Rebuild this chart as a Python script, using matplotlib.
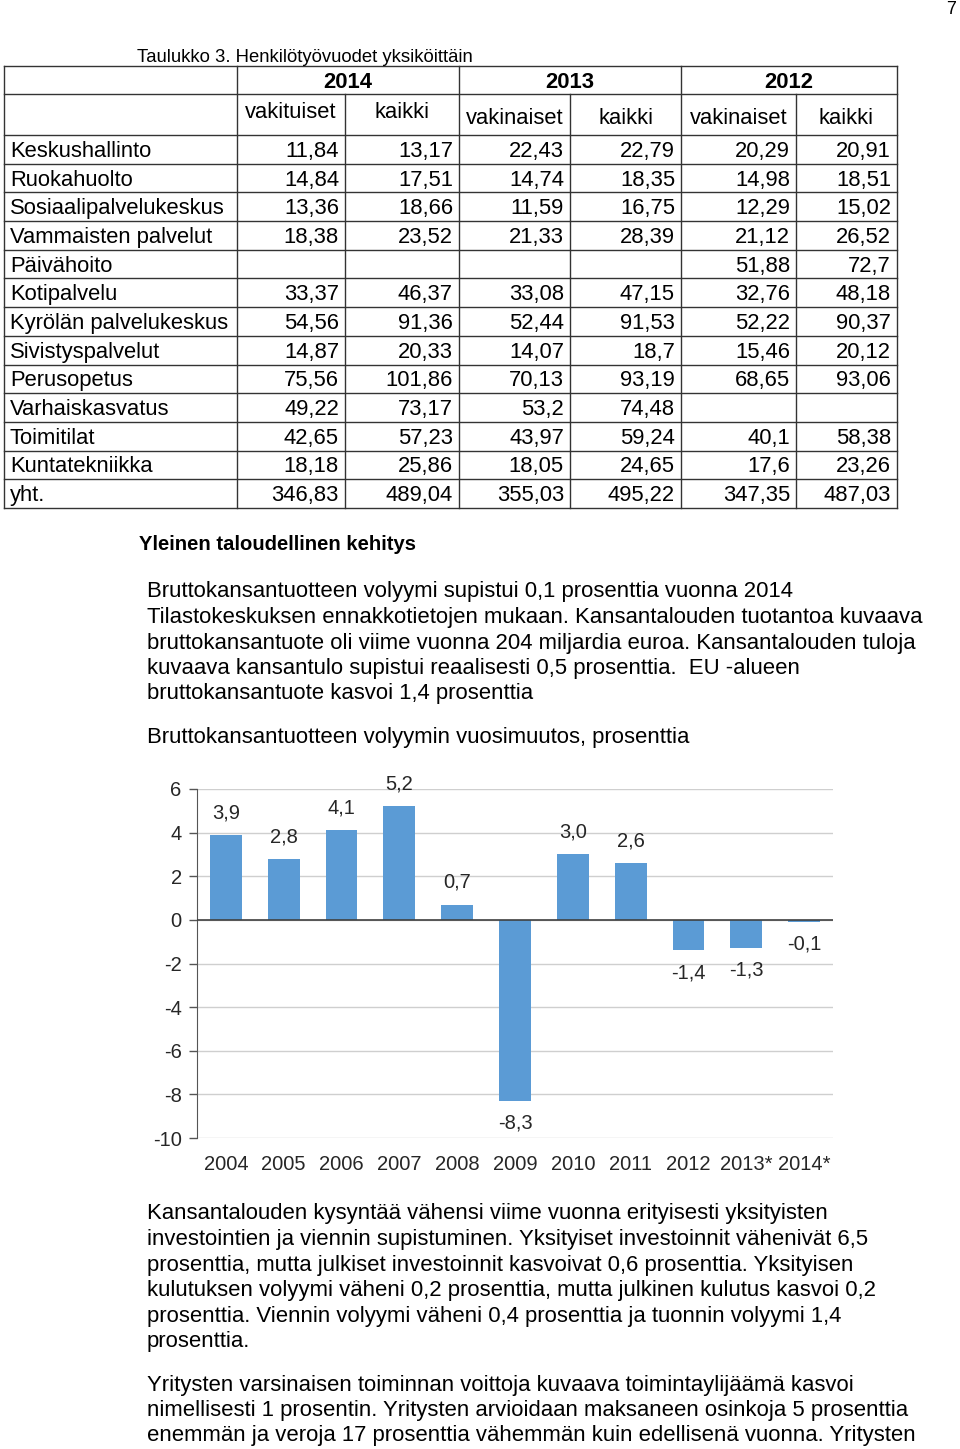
import matplotlib
matplotlib.use('Agg')
import matplotlib.pyplot as plt

plt.rcParams['font.family'] = ['Liberation Sans', 'DejaVu Sans']
plt.rcParams['axes.unicode_minus'] = False

W, H = 960, 1449

# table data
units = ['Keskushallinto', 'Ruokahuolto', 'Sosiaalipalvelukeskus', 'Vammaisten palvelut',
         'Päivähoito', 'Kotipalvelu', 'Kyrölän palvelukeskus', 'Sivistyspalvelut',
         'Perusopetus', 'Varhaiskasvatus', 'Toimitilat', 'Kuntatekniikka', 'yht.']
vak_2014 = ['11,84', '14,84', '13,36', '18,38', '', '33,37', '54,56', '14,87', '75,56', '49,22', '42,65', '18,18', '346,83']
kaikki_2014 = ['13,17', '17,51', '18,66', '23,52', '', '46,37', '91,36', '20,33', '101,86', '73,17', '57,23', '25,86', '489,04']
vak_2013 = ['22,43', '14,74', '11,59', '21,33', '', '33,08', '52,44', '14,07', '70,13', '53,2', '43,97', '18,05', '355,03']
kaikki_2013 = ['22,79', '18,35', '16,75', '28,39', '', '47,15', '91,53', '18,7', '93,19', '74,48', '59,24', '24,65', '495,22']
vak_2012 = ['20,29', '14,98', '12,29', '21,12', '51,88', '32,76', '52,22', '15,46', '68,65', '', '40,1', '17,6', '347,35']
kaikki_2012 = ['20,91', '18,51', '15,02', '26,52', '72,7', '48,18', '90,37', '20,12', '93,06', '', '58,38', '23,26', '487,03']

# chart data
years = ['2004', '2005', '2006', '2007', '2008', '2009', '2010', '2011', '2012', '2013*', '2014*']
gdp_change = [3.9, 2.8, 4.1, 5.2, 0.7, -8.3, 3.0, 2.6, -1.4, -1.3, -0.1]

para1 = ['Bruttokansantuotteen volyymi supistui 0,1 prosenttia vuonna 2014',
         'Tilastokeskuksen ennakkotietojen mukaan. Kansantalouden tuotantoa kuvaava',
         'bruttokansantuote oli viime vuonna 204 miljardia euroa. Kansantalouden tuloja',
         'kuvaava kansantulo supistui reaalisesti 0,5 prosenttia.  EU -alueen',
         'bruttokansantuote kasvoi 1,4 prosenttia']
para2 = ['Kansantalouden kysyntää vähensi viime vuonna erityisesti yksityisten',
         'investointien ja viennin supistuminen. Yksityiset investoinnit vähenivät 6,5',
         'prosenttia, mutta julkiset investoinnit kasvoivat 0,6 prosenttia. Yksityisen',
         'kulutuksen volyymi väheni 0,2 prosenttia, mutta julkinen kulutus kasvoi 0,2',
         'prosenttia. Viennin volyymi väheni 0,4 prosenttia ja tuonnin volyymi 1,4',
         'prosenttia.']
para3 = ['Yritysten varsinaisen toiminnan voittoja kuvaava toimintaylijäämä kasvoi',
         'nimellisesti 1 prosentin. Yritysten arvioidaan maksaneen osinkoja 5 prosenttia',
         'enemmän ja veroja 17 prosenttia vähemmän kuin edellisenä vuonna. Yritysten']

fig = plt.figure(figsize=(W / 100, H / 100), dpi=100)
page = fig.add_axes([0, 0, 1, 1])
page.set_xlim(0, W)
page.set_ylim(H, 0)
page.axis('off')

fs_tab = 15.8
fs_txt = 15.9
dy = 2  # text sits a bit lower than its box centre

page.text(951, 10, '7', fontsize=13, ha='center', va='center')
page.text(137, 55 + dy, 'Taulukko 3. Henkilötyövuodet yksiköittäin', fontsize=13.3, va='center')

# table grid
cols = [4, 237, 345, 459, 570, 681, 796, 897]
top, h1, h2 = 66, 94, 135
row_h = (508 - h2) / len(units)
rows = [h2 + i * row_h for i in range(len(units) + 1)]
lc = '#333333'
for y in [top, h1] + rows:
    page.plot([cols[0], cols[-1]], [y, y], color=lc, lw=1)
for x in cols:
    y0 = h1 if x in (345, 570, 796) else top
    page.plot([x, x], [y0, rows[-1]], color=lc, lw=1)

for i, yr in enumerate(['2014', '2013', '2012']):
    page.text((cols[1 + 2 * i] + cols[3 + 2 * i]) / 2, 80 + dy, yr, fontsize=fs_tab,
              fontweight='bold', ha='center', va='center')
sub = ['vakituiset', 'kaikki', 'vakinaiset', 'kaikki', 'vakinaiset', 'kaikki']
for j, s in enumerate(sub):
    page.text((cols[1 + j] + cols[2 + j]) / 2, (110 if j < 2 else 116) + dy, s,
              fontsize=fs_tab, ha='center', va='center')

columns = [vak_2014, kaikki_2014, vak_2013, kaikki_2013, vak_2012, kaikki_2012]
for i, name in enumerate(units):
    yc = (rows[i] + rows[i + 1]) / 2 + dy
    page.text(10, yc, name, fontsize=fs_tab, va='center')
    for j, col in enumerate(columns):
        page.text(cols[2 + j] - 6, yc, col[i], fontsize=fs_tab, ha='right', va='center')

# text
page.text(139, 543 + dy, 'Yleinen taloudellinen kehitys', fontsize=14.6, fontweight='bold', va='center')
for k, line in enumerate(para1):
    page.text(147, 590 + dy + k * 25.5, line, fontsize=fs_txt, va='center')
page.text(147, 735 + dy, 'Bruttokansantuotteen volyymin vuosimuutos, prosenttia', fontsize=fs_txt, va='center')
for k, line in enumerate(para2):
    page.text(147, 1212 + dy + k * 25.6, line, fontsize=fs_txt, va='center')
for k, line in enumerate(para3):
    page.text(147, 1383 + dy + k * 25.5, line, fontsize=fs_txt, va='center')

# chart
ax = fig.add_axes([197 / W, 1 - 1138 / H, (833 - 197) / W, (1138 - 789) / H])
x = range(len(years))
ax.bar(x, gdp_change, width=0.55, color='#5B9BD5', zorder=3)
ax.set_xlim(-0.5, len(years) - 0.5)
ax.set_ylim(-10, 6)
ax.set_yticks(range(-10, 7, 2))
ax.set_yticklabels([str(v) for v in range(-10, 7, 2)], fontsize=14.5, color='#262626')
ax.set_xticks(list(x))
ax.set_xticklabels(years, fontsize=14.5, color='#262626')
ax.tick_params(axis='x', length=0, pad=12)
ax.tick_params(axis='y', length=6, width=1, color='#555555', pad=5)
ax.grid(axis='y', color='#CFCFCF', lw=1, zorder=0)
ax.axhline(0, color='#404040', lw=1.2, zorder=4)
for s in ['top', 'right', 'bottom']:
    ax.spines[s].set_visible(False)
ax.spines['left'].set_color('#555555')
for xi, v in zip(x, gdp_change):
    ax.annotate(f'{v:.1f}'.replace('.', ','), (xi, v), xytext=(0, 16 if v >= 0 else -16),
                textcoords='offset points', ha='center', va='center', fontsize=14.5, color='#262626')

fig.savefig('out.png', dpi=100)
